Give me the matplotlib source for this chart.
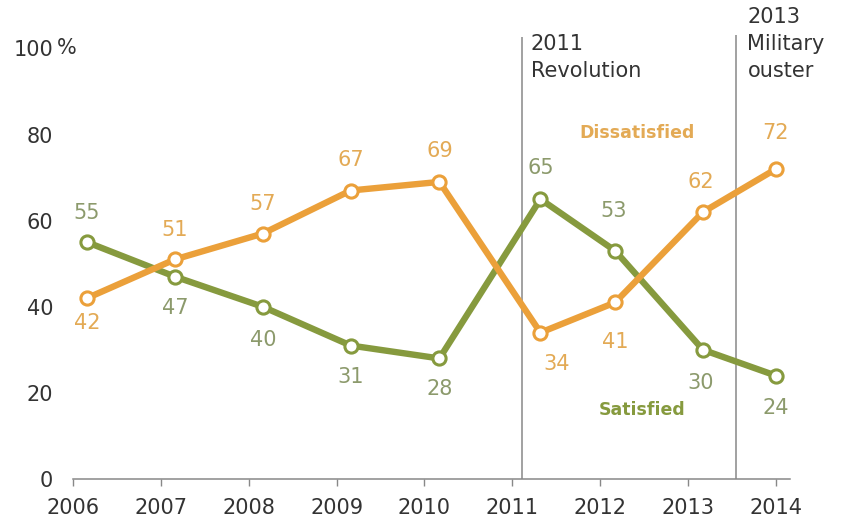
import matplotlib
matplotlib.use("Agg")
import matplotlib.pyplot as plt

# Survey waves (fractional year = when fieldwork ran)
survey_dates = [2006.16, 2007.16, 2008.16, 2009.16, 2010.17, 2011.32, 2012.17, 2013.17, 2014.0]
satisfied = [55, 47, 40, 31, 28, 65, 53, 30, 24]
dissatisfied = [42, 51, 57, 67, 69, 34, 41, 62, 72]

year_ticks = [2006, 2007, 2008, 2009, 2010, 2011, 2012, 2013, 2014]
y_ticks = [0, 20, 40, 60, 80, 100]

events = [2011.11, 2013.55]
event_labels = ["2011\nRevolution", "2013\nMilitary\nouster"]

# label offsets in pixels (dx, dy), positive dy = up
sat_offsets = [(0, 29), (0, -31), (0, -33), (0, -31), (0, -31), (0, 31), (-2, 40), (-2, -33), (0, -32)]
dis_offsets = [(0, -25), (0, 29), (0, 30), (0, 31), (0, 31), (16, -31), (0, -40), (-2, 30), (0, 36)]

ORANGE = "#EBA03A"
GREEN = "#869A3E"
ORANGE_TXT = "#E3AA55"
GREEN_TXT = "#8C9A6C"
GRAY = "#888888"
TEXT = "#333333"
FS = 15

plt.rcParams["font.family"] = ["DejaVu Sans"]

fig = plt.figure(figsize=(8.42, 5.23), dpi=100)
ax = fig.add_axes([73 / 842, 1 - 479 / 523, (790 - 73) / 842, (479 - 31.2) / 523])

px = 72 / fig.dpi

for values, color, txt_color, offsets in [
    (satisfied, GREEN, GREEN_TXT, sat_offsets),
    (dissatisfied, ORANGE, ORANGE_TXT, dis_offsets),
]:
    ax.plot(survey_dates, values, color=color, linewidth=4.6, zorder=3,
            marker="o", markersize=9.5, markerfacecolor="white",
            markeredgecolor=color, markeredgewidth=2.2, clip_on=False)
    for x, v, (dx, dy) in zip(survey_dates, values, offsets):
        ax.annotate(str(v), (x, v), xytext=(dx * px, dy * px), textcoords="offset points",
                    ha="center", va="center", fontsize=FS, color=txt_color, zorder=4)

# event markers
ax.vlines(events[0], 0, 102.7, color=GRAY, linewidth=1.1, zorder=2)
ax.vlines(events[1], 0, 103.2, color=GRAY, linewidth=1.1, zorder=2)

ax.text(events[0] + 9 / 88, 103.3, event_labels[0], ha="left", va="top",
        fontsize=FS, color=TEXT, linespacing=1.4, clip_on=False)
ax.text(events[1] + 11 / 88, 109.6, event_labels[1], ha="left", va="top",
        fontsize=FS, color=TEXT, linespacing=1.42, clip_on=False)

ax.text(2011.32 + 97 / 88, 80.4, "Dissatisfied", ha="center", va="center",
        fontsize=12.5, fontweight="bold", color=ORANGE_TXT)
ax.text(2011.32 + 102 / 88, 16.0, "Satisfied", ha="center", va="center",
        fontsize=12.5, fontweight="bold", color=GREEN)

ax.set_xlim(2006, 2014.16)
ax.set_ylim(0, 104)
ax.set_xticks(year_ticks)
ax.set_xticklabels([str(y) for y in year_ticks])
ax.set_yticks(y_ticks)
ax.set_yticklabels([str(y) for y in y_ticks])
ax.text(2006 - 16 / 88, 100, "%", ha="left", va="center",
        fontsize=FS, color=TEXT, clip_on=False)

for side in ["top", "right", "left"]:
    ax.spines[side].set_visible(False)
ax.spines["bottom"].set_color(GRAY)
ax.spines["bottom"].set_linewidth(1.1)
ax.tick_params(axis="x", colors=GRAY, length=5, width=1, labelsize=FS,
               labelcolor=TEXT, pad=9)
ax.tick_params(axis="y", length=0, labelsize=FS, labelcolor=TEXT, pad=14.4)

fig.savefig("out.png", dpi=100)
